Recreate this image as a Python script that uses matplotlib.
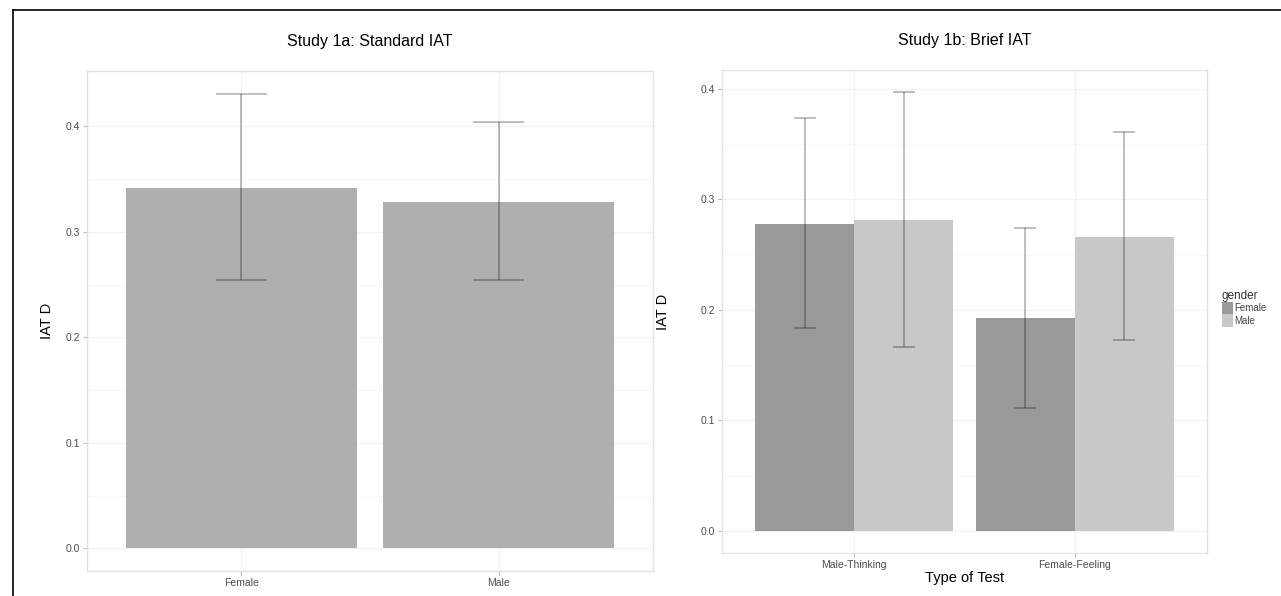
import numpy as np
import matplotlib
matplotlib.use("Agg")
import matplotlib.pyplot as plt
from matplotlib.lines import Line2D
from matplotlib.patches import Patch

plt.rcParams["font.family"] = ["Liberation Sans", "DejaVu Sans"]

# Study 1a: standard IAT, by gender
gender_a = ["Female", "Male"]
mean_a = [0.342, 0.328]
lo_a = [0.254, 0.254]
hi_a = [0.431, 0.404]

# Study 1b: brief IAT, by test type and gender
tests_b = ["Male-Thinking", "Female-Feeling"]
mean_b_female = [0.278, 0.193]
lo_b_female = [0.184, 0.111]
hi_b_female = [0.373, 0.274]
mean_b_male = [0.281, 0.266]
lo_b_male = [0.166, 0.173]
hi_b_male = [0.397, 0.361]

W, H = 1281, 596
fig = plt.figure(figsize=(W / 100, H / 100), dpi=100)

err_col = (0, 0, 0, 0.3)
grid_major = "#f2f2f2"
grid_minor = "#f8f8f8"


def style(ax, yticks):
    ax.set_facecolor("white")
    for s in ax.spines.values():
        s.set_color("#e2e2e2"); s.set_linewidth(1.0)
    ax.set_yticks(yticks)
    ax.set_yticks((np.array(yticks[:-1]) + np.array(yticks[1:])) / 2, minor=True)
    ax.grid(True, which="major", color=grid_major, lw=0.9)
    ax.grid(True, which="minor", axis="y", color=grid_minor, lw=0.9)
    ax.set_axisbelow(True)
    ax.tick_params(which="major", length=3, color="#bbbbbb", labelsize=7.5,
                   labelcolor="#4d4d4d", pad=2)
    ax.tick_params(which="minor", length=0)
    ax.set_yticklabels([f"{t:.1f}" for t in yticks])


def errbars(ax, x, lo, hi, cap):
    x = np.asarray(x, float)
    ax.vlines(x, lo, hi, color=err_col, lw=1.2, zorder=3)
    ax.hlines(lo, x - cap / 2, x + cap / 2, color=err_col, lw=1.2, zorder=3)
    ax.hlines(hi, x - cap / 2, x + cap / 2, color=err_col, lw=1.2, zorder=3)


# ---- left panel
ax1 = fig.add_axes([87 / W, (H - 571) / H, 566 / W, 500 / H])
xa = np.arange(1, len(gender_a) + 1)
ax1.bar(xa, mean_a, width=0.9, color="#afafaf", zorder=2)
errbars(ax1, xa, lo_a, hi_a, 0.2)
top = max(hi_a)
ax1.set_ylim(-0.05 * top, top * 1.05)
ax1.set_xlim(0.4, 2.6)
ax1.set_xticks(xa)
ax1.set_xticklabels(gender_a)
style(ax1, [0.0, 0.1, 0.2, 0.3, 0.4])
ax1.set_ylabel("IAT D", fontsize=10.5, labelpad=8)
ax1.set_title("Study 1a: Standard IAT", fontsize=11.5, pad=18)

# ---- right panel
ax2 = fig.add_axes([722 / W, (H - 553) / H, 485 / W, 483 / H])
xb = np.arange(1, len(tests_b) + 1)
ax2.bar(xb - 0.225, mean_b_female, width=0.45, color="#9a9a9a", zorder=2)
ax2.bar(xb + 0.225, mean_b_male, width=0.45, color="#c8c8c8", zorder=2)
errbars(ax2, xb - 0.225, lo_b_female, hi_b_female, 0.1)
errbars(ax2, xb + 0.225, lo_b_male, hi_b_male, 0.1)
top = max(hi_b_female + hi_b_male)
ax2.set_ylim(-0.05 * top, top * 1.05)
ax2.set_xlim(0.4, 2.6)
ax2.set_xticks(xb)
ax2.set_xticklabels(tests_b)
style(ax2, [0.0, 0.1, 0.2, 0.3, 0.4])
ax2.set_ylabel("IAT D", fontsize=10.5, labelpad=22)
ax2.set_xlabel("Type of Test", fontsize=10.5, labelpad=1)
ax2.set_title("Study 1b: Brief IAT", fontsize=11.5, pad=18)

handles = [Patch(facecolor="#9a9a9a", label="Female"),
           Patch(facecolor="#c8c8c8", label="Male")]
leg = fig.legend(handles=handles, title="gender", loc="upper left",
                 bbox_to_anchor=(1217 / W, (H - 285) / H), frameon=False,
                 fontsize=7, title_fontsize=8.5, handlelength=1.1,
                 handleheight=1.6, handletextpad=0.15, labelspacing=0.0,
                 borderpad=0, alignment="left")
for t in leg.get_texts():
    t.set_color("#444444")
leg.get_title().set_color("#333333")

# frame lines from the cropped figure border
fig.add_artist(Line2D([13 / W, 1], [(H - 10) / H, (H - 10) / H], color="black", lw=1.2))
fig.add_artist(Line2D([13 / W, 13 / W], [0, (H - 10) / H], color="black", lw=1.2))

fig.savefig("out.png", dpi=100)
